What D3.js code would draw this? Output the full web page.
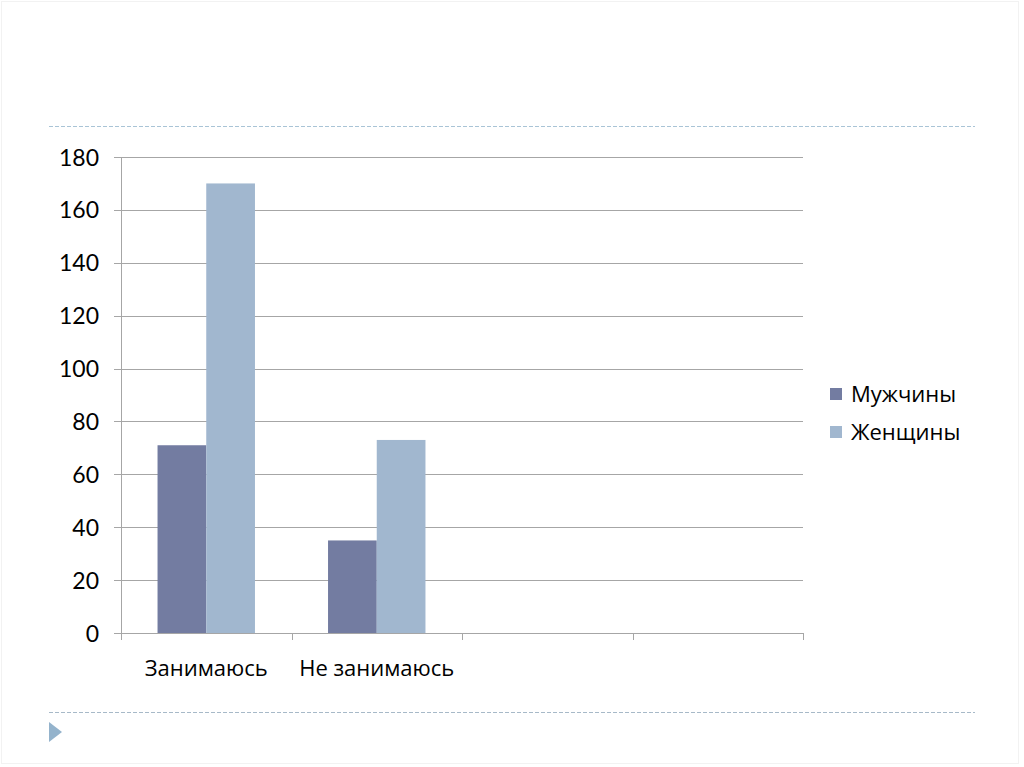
<!DOCTYPE html>
<html><head><meta charset="utf-8">
<script src="https://cdn.jsdelivr.net/npm/d3@7"></script>
<style>html,body{margin:0;padding:0;background:#fff;}svg{display:block;}</style>
</head><body>
<script>
const categories = ["Занимаюсь", "Не занимаюсь", "", ""];
const seriesNames = ["Мужчины", "Женщины"];
const men = [71, 35, null, null];
const women = [170, 73, null, null];
const yTicks = [0, 20, 40, 60, 80, 100, 120, 140, 160, 180];
const colors = ["#737ca1", "#a1b7cf"];

(function () {
const W = 1024, H = 767;
const svg = d3.select("body").append("svg").attr("width", W).attr("height", H);

// slide frame & decorations
svg.append("rect").attr("x", 1.5).attr("y", 1.5).attr("width", 1017).attr("height", 762)
  .attr("fill", "none").attr("stroke", "#f2f2f2");
svg.append("line").attr("x1", 49).attr("x2", 975).attr("y1", 126.5).attr("y2", 126.5)
  .attr("stroke", "#a9c4d6").attr("stroke-dasharray", "4,2");
svg.append("line").attr("x1", 49).attr("x2", 975).attr("y1", 712.5).attr("y2", 712.5)
  .attr("stroke", "#a7b9c8").attr("stroke-dasharray", "4,2");
svg.append("path").attr("d", "M49,722 L62,732 L49,742 Z").attr("fill", "#94b3cc");

const pl = 121, pr = 803, pt = 157, pb = 633;
const x0 = d3.scaleBand().domain(d3.range(categories.length)).range([pl, pr]).paddingInner(0).paddingOuter(0);
const x1 = d3.scaleBand().domain(seriesNames).range([0, x0.bandwidth()]).paddingInner(0).paddingOuter(0.75);
const y = d3.scaleLinear().domain([0, 180]).range([pb, pt]);

// gridlines
const grid = svg.append("g");
yTicks.forEach(t => {
  grid.append("line").attr("x1", pl - 7).attr("x2", pr).attr("y1", Math.round(y(t)) + 0.5).attr("y2", Math.round(y(t)) + 0.5)
    .attr("stroke", "#a6a6a6").attr("stroke-width", 1);
});
// y axis line
svg.append("line").attr("x1", pl + 0.5).attr("x2", pl + 0.5).attr("y1", pt).attr("y2", pb + 1)
  .attr("stroke", "#a6a6a6");
// y labels
const yAxis = d3.axisLeft(y).tickValues(yTicks).tickSize(0).tickPadding(0);
const ya = svg.append("g").attr("transform", `translate(${pl - 22},0)`).call(yAxis);
ya.select(".domain").remove();
ya.selectAll("text").attr("font-family", "Lato, 'DejaVu Sans', sans-serif").attr("font-size", 23)
  .attr("fill", "#000").attr("dy", "0.35em");

// category ticks
const catEdges = d3.range(categories.length + 1).map(i => i < categories.length ? x0(i) : x0(i - 1) + x0.bandwidth());
catEdges.forEach(xe => {
  svg.append("line").attr("x1", Math.round(xe) + 0.5).attr("x2", Math.round(xe) + 0.5).attr("y1", pb).attr("y2", pb + 7)
    .attr("stroke", "#a6a6a6");
});

// bars
const data = [men, women];
seriesNames.forEach((s, si) => {
  svg.append("g").selectAll("rect").data(data[si].map((v, i) => ({v, i})).filter(d => d.v != null))
    .join("rect")
    .attr("x", d => x0(d.i) + x1(s))
    .attr("width", x1.bandwidth())
    .attr("y", d => y(d.v))
    .attr("height", d => y(0) - y(d.v))
    .attr("fill", colors[si]);
});

// category labels
svg.append("g").selectAll("text").data(categories.map((c, i) => ({c, i})))
  .join("text")
  .attr("x", d => x0(d.i) + x0.bandwidth() / 2)
  .attr("y", 676)
  .attr("text-anchor", "middle")
  .attr("font-family", "'Open Sans', sans-serif").attr("font-size", 22).attr("fill", "#000")
  .text(d => d.c);

// legend
const lg = svg.append("g");
seriesNames.forEach((s, i) => {
  const ly = 394 + i * 38;
  lg.append("rect").attr("x", 830).attr("y", ly - 6).attr("width", 12).attr("height", 12).attr("fill", colors[i]);
  lg.append("text").attr("x", 851).attr("y", ly + 8).attr("font-family", "'Open Sans', sans-serif")
    .attr("font-size", 22).attr("fill", "#000").text(s);
});
})();
</script>
</body></html>
